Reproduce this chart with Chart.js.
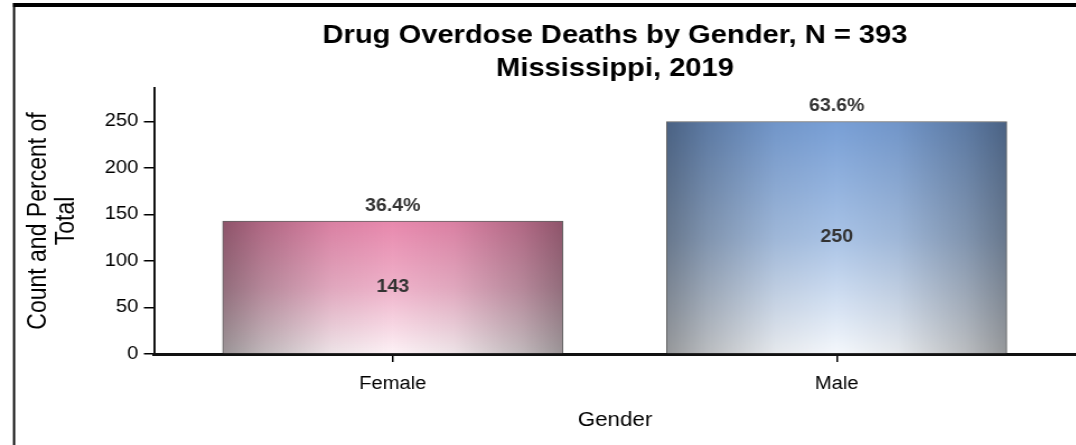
<!DOCTYPE html>
<html>
<head>
<meta charset="utf-8">
<title>Drug Overdose Deaths by Gender</title>
<script src="https://cdn.jsdelivr.net/npm/chart.js@4/dist/chart.umd.min.js"></script>
<style>
  html, body { margin: 0; padding: 0; background: #fff; }
</style>
</head>
<body>
<canvas id="chart" width="961" height="445" style="display:block;width:1076px;height:445px"></canvas>
<script>
const categories = ['Female', 'Male'];
const deathCounts = [143, 250];
const yTicks = [0, 50, 100, 150, 200, 250];

const FONT = 'Arial, "Liberation Sans", Helvetica, sans-serif';
const BAR_W = 304;
// top / middle / bottom of each bar's vertical shading
const barShades = [
  ['#e888ad', '#efb2ca', '#fdf2f6'],
  ['#789fd6', '#a9c3e6', '#f5f8fc']
];

const total = deathCounts.reduce((a, b) => a + b, 0);
const pctLabels = deathCounts.map(v => (v / total * 100).toFixed(1) + '%');

// shaded fill: coloured top fading to white, darkened towards both sides
function barFill(ctx) {
  const chart = ctx.chart;
  const i = ctx.dataIndex;
  const xs = chart.scales.x, ys = chart.scales.y;
  if (ctx.type !== 'data' || !chart.chartArea || !xs || !ys) return barShades[i || 0][0];
  const left = xs.getPixelForValue(i) - BAR_W / 2;
  const top = ys.getPixelForValue(deathCounts[i]);
  const bottom = ys.getPixelForValue(0);
  if (!isFinite(left) || !isFinite(top) || !isFinite(bottom)) return barShades[i][0];
  const w = Math.max(1, Math.round(BAR_W)), h = Math.max(1, Math.round(bottom - top));
  const off = document.createElement('canvas');
  off.width = w; off.height = h;
  const g = off.getContext('2d');
  const v = g.createLinearGradient(0, 0, 0, h);
  v.addColorStop(0, barShades[i][0]);
  v.addColorStop(0.5, barShades[i][1]);
  v.addColorStop(1, barShades[i][2]);
  g.fillStyle = v;
  g.fillRect(0, 0, w, h);
  g.globalCompositeOperation = 'multiply';
  const hz = g.createLinearGradient(0, 0, w, 0);
  hz.addColorStop(0, '#9c9c9c');
  hz.addColorStop(0.12, '#c2c2c2');
  hz.addColorStop(0.32, '#efefef');
  hz.addColorStop(0.5, '#ffffff');
  hz.addColorStop(0.68, '#efefef');
  hz.addColorStop(0.88, '#c2c2c2');
  hz.addColorStop(1, '#9c9c9c');
  g.fillStyle = hz;
  g.fillRect(0, 0, w, h);
  const pat = chart.ctx.createPattern(off, 'no-repeat');
  pat.setTransform(new DOMMatrix([1, 0, 0, 1, left, top]));
  return pat;
}

const frame = {
  id: 'frame',
  afterDraw(chart) {
    const c = chart.ctx;
    c.save();
    c.fillStyle = '#000';
    c.fillRect(11.6, 3, chart.width, 4);
    c.fillRect(11.6, 3, 1.9, chart.height);
    c.restore();
  }
};

const heading = {
  id: 'heading',
  afterDraw(chart) {
    const c = chart.ctx, a = chart.chartArea;
    const cx = (a.left + a.right) / 2;
    c.save();
    c.fillStyle = '#000';
    c.textAlign = 'center';
    c.textBaseline = 'alphabetic';
    c.font = 'bold 26px ' + FONT;
    c.fillText('Drug Overdose Deaths by Gender, N = ' + total, cx, 43);
    c.fillText('Mississippi, 2019', cx, 76);
    c.restore();
  }
};

const barLabels = {
  id: 'barLabels',
  afterDatasetsDraw(chart) {
    const c = chart.ctx;
    const meta = chart.getDatasetMeta(0);
    c.save();
    c.fillStyle = '#333';
    c.textAlign = 'center';
    c.textBaseline = 'middle';
    c.font = 'bold 17.5px ' + FONT;
    meta.data.forEach((bar, i) => {
      c.fillText(String(deathCounts[i]), bar.x, (bar.y + bar.base) / 2);
      c.fillText(pctLabels[i], bar.x, bar.y - 15);
    });
    c.restore();
  }
};

new Chart(document.getElementById('chart'), {
  type: 'bar',
  data: {
    datasets: [{
      data: deathCounts.map((v, i) => ({ x: i, y: v })),
      backgroundColor: barFill,
      borderColor: 'rgba(70,70,70,0.85)',
      borderWidth: 1,
      borderSkipped: 'bottom',
      barThickness: BAR_W,
      grouped: false
    }]
  },
  options: {
    responsive: false,
    devicePixelRatio: 1,
    animation: false,
    layout: { padding: { top: 88, left: 14, right: 0, bottom: 0 } },
    plugins: {
      legend: { display: false },
      tooltip: { enabled: false }
    },
    scales: {
      x: {
        type: 'linear',
        offset: false,
        min: -0.538,
        max: 1.539,
        afterBuildTicks: s => { s.ticks = categories.map((_, i) => ({ value: i })); },
        afterFit: s => { s.height = 91; },
        ticks: {
          color: '#000',
          padding: 11,
          font: { family: FONT, size: 18 },
          callback: (v) => categories[v]
        },
        grid: { offset: false, drawOnChartArea: false, drawTicks: true, tickLength: 8, color: '#000', lineWidth: 1.5 },
        border: { display: true, color: '#111', width: 3 },
        title: {
          display: true,
          text: 'Gender',
          color: '#000',
          font: { family: FONT, size: 20 },
          padding: { top: 0, bottom: 13 }
        }
      },
      y: {
        min: 0,
        max: 286,
        afterBuildTicks: s => { s.ticks = yTicks.map(v => ({ value: v })); },
        afterFit: s => { s.width = 123.5; },
        ticks: {
          color: '#000',
          padding: 5,
          font: { family: FONT, size: 18 }
        },
        grid: { drawOnChartArea: false, drawTicks: true, tickLength: 9, color: '#000', lineWidth: 1.5 },
        border: { display: true, color: '#111', width: 2 },
        title: {
          display: true,
          text: ['Count and Percent of', 'Total'],
          color: '#000',
          font: { family: FONT, size: 23, lineHeight: 1.05 },
          padding: { top: 9, bottom: 0 }
        }
      }
    }
  },
  plugins: [frame, heading, barLabels]
});
</script>
</body>
</html>
